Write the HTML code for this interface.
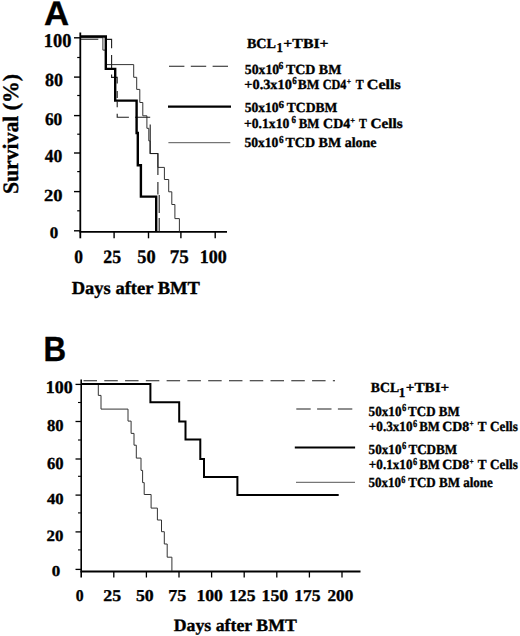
<!DOCTYPE html>
<html><head><meta charset="utf-8"><style>
html,body{margin:0;padding:0;background:#fff;}
svg{display:block;}
text{text-rendering:geometricPrecision;stroke:#000;stroke-width:0.35px;paint-order:stroke;}
</style></head><body>
<svg width="520" height="636" viewBox="0 0 520 636">
<rect width="520" height="636" fill="#fff"/>
<text transform="translate(44.03,24.90) scale(1.0131,1)" font-family='"Liberation Sans", sans-serif' font-weight="bold" font-size="34.33">A</text>
<line x1="80.3" y1="32.5" x2="80.3" y2="238.3" stroke="#000" stroke-width="1.8"/>
<line x1="79.39999999999999" y1="231.8" x2="227" y2="231.8" stroke="#000" stroke-width="1.8"/>
<line x1="74" y1="37.8" x2="80.3" y2="37.8" stroke="#000" stroke-width="1.4"/>
<line x1="74" y1="77.1" x2="80.3" y2="77.1" stroke="#000" stroke-width="1.4"/>
<line x1="74" y1="115.6" x2="80.3" y2="115.6" stroke="#000" stroke-width="1.4"/>
<line x1="74" y1="153.0" x2="80.3" y2="153.0" stroke="#000" stroke-width="1.4"/>
<line x1="74" y1="191.6" x2="80.3" y2="191.6" stroke="#000" stroke-width="1.4"/>
<line x1="74" y1="230.8" x2="80.3" y2="230.8" stroke="#000" stroke-width="1.4"/>
<line x1="77.2" y1="57.5" x2="80.3" y2="57.5" stroke="#000" stroke-width="1.2"/>
<line x1="77.2" y1="95.5" x2="80.3" y2="95.5" stroke="#000" stroke-width="1.2"/>
<line x1="77.2" y1="134.2" x2="80.3" y2="134.2" stroke="#000" stroke-width="1.2"/>
<line x1="77.2" y1="171.6" x2="80.3" y2="171.6" stroke="#000" stroke-width="1.2"/>
<line x1="77.2" y1="210.8" x2="80.3" y2="210.8" stroke="#000" stroke-width="1.2"/>
<line x1="114.1" y1="231.8" x2="114.1" y2="238.3" stroke="#000" stroke-width="1.4"/>
<line x1="148.5" y1="231.8" x2="148.5" y2="238.3" stroke="#000" stroke-width="1.4"/>
<line x1="180.9" y1="231.8" x2="180.9" y2="238.3" stroke="#000" stroke-width="1.4"/>
<line x1="215.2" y1="231.8" x2="215.2" y2="238.3" stroke="#000" stroke-width="1.4"/>
<text transform="translate(43.83,46.90) scale(0.9400,1)" font-family='"Liberation Serif", serif' font-weight="bold" font-size="19.55">100</text>
<text transform="translate(44.92,86.30) scale(0.9788,1)" font-family='"Liberation Serif", serif' font-weight="bold" font-size="18.35">80</text>
<text transform="translate(44.89,124.60) scale(0.9746,1)" font-family='"Liberation Serif", serif' font-weight="bold" font-size="17.81">60</text>
<text transform="translate(44.78,162.00) scale(0.9632,1)" font-family='"Liberation Serif", serif' font-weight="bold" font-size="18.25">40</text>
<text transform="translate(43.91,201.00) scale(1.0930,1)" font-family='"Liberation Serif", serif' font-weight="bold" font-size="16.91">20</text>
<text transform="translate(49.86,238.20) scale(1.0529,1)" font-family='"Liberation Serif", serif' font-weight="bold" font-size="16.09">0</text>
<text transform="translate(74.25,263.20) scale(0.9263,1)" font-family='"Liberation Serif", serif' font-weight="bold" font-size="18.80">0</text>
<text transform="translate(103.34,263.20) scale(0.9448,1)" font-family='"Liberation Serif", serif' font-weight="bold" font-size="18.87">25</text>
<text transform="translate(137.27,263.20) scale(0.9600,1)" font-family='"Liberation Serif", serif' font-weight="bold" font-size="19.08">50</text>
<text transform="translate(169.71,263.20) scale(0.9959,1)" font-family='"Liberation Serif", serif' font-weight="bold" font-size="19.08">75</text>
<text transform="translate(199.86,263.20) scale(0.9510,1)" font-family='"Liberation Serif", serif' font-weight="bold" font-size="18.94">100</text>
<text transform="translate(71.68,293.80) scale(1.0113,1)" font-family='"Liberation Serif", serif' font-weight="bold" font-size="18.32">Days after BMT</text>
<g transform="rotate(-90)"><text transform="translate(-194.04,17.80) scale(0.9856,1)" font-family='"Liberation Serif", serif' font-weight="bold" font-size="22.04">Survival (%)</text></g>
<path d="M 81 37.7 H 102.9 V 50.1 H 105.8 V 64.6 H 133.7 V 77.3 H 136.7 V 89.4 H 139.8 V 102.5 H 142.8 V 115.8 H 146.9 V 128.3 H 148.8 V 140.9 H 150.1 V 153.6 H 157.9 V 167.4 H 164.4 V 179.5 H 168.7 V 191.8 H 171.8 V 204.5 H 174.9 V 218.6 H 179.4 V 231.5" fill="none" stroke="#333" stroke-width="1.0"/>
<path d="M 81 39.3 H 98.3 M 106 39.4 H 111.6 V 48.2 M 111.6 55 V 69 M 111.6 74.5 V 77.4 H 117.2 V 83.6 M 117.2 91 V 98 M 117.2 101.5 V 107.2 M 117.2 113.8 V 117.3 H 128.9 M 135 117.3 H 150.2 M 150.2 124.4 V 153.5 H 157.9 V 175 M 157.9 182 V 194.5 M 159.2 195 V 213 M 159.2 218 V 231.5" fill="none" stroke="#1e1e1e" stroke-width="1.1"/>
<path d="M 81 36.5 H 105.8 V 68.9 H 115.2 V 100.6 H 136.6 V 133 H 137.8 V 165.3 H 140.9 V 196.6 H 156.2 V 231.5" fill="none" stroke="#000" stroke-width="2.4"/>
<line x1="169" y1="66.3" x2="228.3" y2="66.3" stroke="#1e1e1e" stroke-width="1.1" stroke-dasharray="15.4 6.4"/>
<line x1="168" y1="106.6" x2="231" y2="106.6" stroke="#000" stroke-width="2.3"/>
<line x1="168.4" y1="142.7" x2="230.3" y2="142.7" stroke="#555" stroke-width="1.0"/>
<text transform="translate(246.95,47.50) scale(1.0157,1.0)" font-family='"Liberation Serif", serif' font-weight="bold" font-size="13.90">BCL</text>
<text transform="translate(276.48,52.10) scale(0.9473,1.0)" font-family='"Liberation Serif", serif' font-weight="bold" font-size="13.50">1</text>
<text transform="translate(283.37,47.50) scale(1.1375,1.0)" font-family='"Liberation Serif", serif' font-weight="bold" font-size="13.90">+TBI+</text>
<text transform="translate(244.85,73.50) scale(0.9889,1.0)" font-family='"Liberation Serif", serif' font-weight="bold" font-size="13.90">50x10</text>
<text transform="translate(278.56,69.20) scale(0.9195,1.0)" font-family='"Liberation Serif", serif' font-weight="bold" font-size="10.50">6</text>
<text transform="translate(285.89,73.50) scale(1.0056,1.0)" font-family='"Liberation Serif", serif' font-weight="bold" font-size="13.90">TCD BM</text>
<text transform="translate(244.35,88.70) scale(1.0290,1.0)" font-family='"Liberation Serif", serif' font-weight="bold" font-size="13.90">+0.3x10</text>
<text transform="translate(292.19,84.40) scale(0.8539,1.0)" font-family='"Liberation Serif", serif' font-weight="bold" font-size="10.50">6</text>
<text transform="translate(297.77,88.70) scale(0.9654,1.0)" font-family='"Liberation Serif", serif' font-weight="bold" font-size="13.90">BM</text>
<text transform="translate(322.69,88.70) scale(0.8813,1.0)" font-family='"Liberation Serif", serif' font-weight="bold" font-size="13.90">CD4</text>
<text transform="translate(346.70,83.70) scale(0.9409,1.0)" font-family='"Liberation Serif", serif' font-weight="bold" font-size="8.00">+</text>
<text transform="translate(355.82,88.70) scale(0.8577,1.0)" font-family='"Liberation Serif", serif' font-weight="bold" font-size="13.90">T</text>
<text transform="translate(366.80,88.70) scale(1.1581,1.0)" font-family='"Liberation Serif", serif' font-weight="bold" font-size="13.90">Cells</text>
<text transform="translate(244.66,112.10) scale(0.9771,1.0)" font-family='"Liberation Serif", serif' font-weight="bold" font-size="13.90">50x10</text>
<text transform="translate(278.61,107.80) scale(1.0509,1.0)" font-family='"Liberation Serif", serif' font-weight="bold" font-size="10.50">6</text>
<text transform="translate(286.80,112.10) scale(0.9781,1.0)" font-family='"Liberation Serif", serif' font-weight="bold" font-size="13.90">TCDBM</text>
<text transform="translate(243.98,127.60) scale(0.9822,1.0)" font-family='"Liberation Serif", serif' font-weight="bold" font-size="13.90">+0.1x10</text>
<text transform="translate(291.59,123.30) scale(0.8539,1.0)" font-family='"Liberation Serif", serif' font-weight="bold" font-size="10.50">6</text>
<text transform="translate(298.78,127.60) scale(0.9240,1.0)" font-family='"Liberation Serif", serif' font-weight="bold" font-size="13.90">BM</text>
<text transform="translate(323.10,127.60) scale(1.0039,1.0)" font-family='"Liberation Serif", serif' font-weight="bold" font-size="13.90">CD4</text>
<text transform="translate(350.36,122.60) scale(1.0484,1.0)" font-family='"Liberation Serif", serif' font-weight="bold" font-size="8.00">+</text>
<text transform="translate(359.02,127.60) scale(0.8464,1.0)" font-family='"Liberation Serif", serif' font-weight="bold" font-size="13.90">T</text>
<text transform="translate(370.54,127.60) scale(1.0981,1.0)" font-family='"Liberation Serif", serif' font-weight="bold" font-size="13.90">Cells</text>
<text transform="translate(244.46,147.00) scale(0.9771,1.0)" font-family='"Liberation Serif", serif' font-weight="bold" font-size="13.90">50x10</text>
<text transform="translate(279.08,142.70) scale(0.8758,1.0)" font-family='"Liberation Serif", serif' font-weight="bold" font-size="10.50">6</text>
<text transform="translate(285.49,147.00) scale(1.0090,1.0)" font-family='"Liberation Serif", serif' font-weight="bold" font-size="13.90">TCD BM alone</text>
<text transform="translate(43.49,360.50) scale(0.8969,1)" font-family='"Liberation Sans", sans-serif' font-weight="bold" font-size="34.91">B</text>
<line x1="81.2" y1="379.5" x2="81.2" y2="577.5" stroke="#000" stroke-width="1.6"/>
<line x1="80.4" y1="571.5" x2="360.5" y2="571.5" stroke="#000" stroke-width="1.8"/>
<line x1="75.5" y1="384.4" x2="81.2" y2="384.4" stroke="#000" stroke-width="1.3"/>
<line x1="75.5" y1="421.5" x2="81.2" y2="421.5" stroke="#000" stroke-width="1.3"/>
<line x1="75.5" y1="459" x2="81.2" y2="459" stroke="#000" stroke-width="1.3"/>
<line x1="75.5" y1="495.1" x2="81.2" y2="495.1" stroke="#000" stroke-width="1.3"/>
<line x1="75.5" y1="531.9" x2="81.2" y2="531.9" stroke="#000" stroke-width="1.3"/>
<line x1="75.5" y1="569.4" x2="81.2" y2="569.4" stroke="#000" stroke-width="1.3"/>
<line x1="78" y1="402.5" x2="81.2" y2="402.5" stroke="#000" stroke-width="1.1"/>
<line x1="78" y1="440" x2="81.2" y2="440" stroke="#000" stroke-width="1.1"/>
<line x1="78" y1="476.3" x2="81.2" y2="476.3" stroke="#000" stroke-width="1.1"/>
<line x1="78" y1="512.9" x2="81.2" y2="512.9" stroke="#000" stroke-width="1.1"/>
<line x1="78" y1="549.9" x2="81.2" y2="549.9" stroke="#000" stroke-width="1.1"/>
<line x1="113.80000000000001" y1="571.5" x2="113.80000000000001" y2="577.5" stroke="#000" stroke-width="1.3"/>
<line x1="146.4" y1="571.5" x2="146.4" y2="577.5" stroke="#000" stroke-width="1.3"/>
<line x1="179.0" y1="571.5" x2="179.0" y2="577.5" stroke="#000" stroke-width="1.3"/>
<line x1="211.60000000000002" y1="571.5" x2="211.60000000000002" y2="577.5" stroke="#000" stroke-width="1.3"/>
<line x1="244.2" y1="571.5" x2="244.2" y2="577.5" stroke="#000" stroke-width="1.3"/>
<line x1="276.8" y1="571.5" x2="276.8" y2="577.5" stroke="#000" stroke-width="1.3"/>
<line x1="309.40000000000003" y1="571.5" x2="309.40000000000003" y2="577.5" stroke="#000" stroke-width="1.3"/>
<line x1="342.0" y1="571.5" x2="342.0" y2="577.5" stroke="#000" stroke-width="1.3"/>
<text transform="translate(45.76,392.80) scale(1.0119,1)" font-family='"Liberation Serif", serif' font-weight="bold" font-size="17.73">100</text>
<text transform="translate(47.06,431.40) scale(1.0011,1)" font-family='"Liberation Serif", serif' font-weight="bold" font-size="16.54">80</text>
<text transform="translate(47.02,469.00) scale(0.9821,1)" font-family='"Liberation Serif", serif' font-weight="bold" font-size="16.91">60</text>
<text transform="translate(46.99,503.70) scale(1.0827,1)" font-family='"Liberation Serif", serif' font-weight="bold" font-size="15.36">40</text>
<text transform="translate(46.48,541.20) scale(1.0732,1)" font-family='"Liberation Serif", serif' font-weight="bold" font-size="15.70">20</text>
<text transform="translate(51.76,576.30) scale(1.1266,1)" font-family='"Liberation Serif", serif' font-weight="bold" font-size="15.04">0</text>
<text transform="translate(75.66,600.80) scale(0.9618,1)" font-family='"Liberation Serif", serif' font-weight="bold" font-size="16.39">0</text>
<text transform="translate(103.24,600.80) scale(1.0835,1)" font-family='"Liberation Serif", serif' font-weight="bold" font-size="16.45">25</text>
<text transform="translate(135.89,600.80) scale(1.0683,1)" font-family='"Liberation Serif", serif' font-weight="bold" font-size="16.64">50</text>
<text transform="translate(168.16,600.80) scale(1.0890,1)" font-family='"Liberation Serif", serif' font-weight="bold" font-size="16.64">75</text>
<text transform="translate(196.39,600.80) scale(1.0687,1)" font-family='"Liberation Serif", serif' font-weight="bold" font-size="16.52">100</text>
<text transform="translate(228.99,600.80) scale(1.0687,1)" font-family='"Liberation Serif", serif' font-weight="bold" font-size="16.52">125</text>
<text transform="translate(261.59,600.80) scale(1.0687,1)" font-family='"Liberation Serif", serif' font-weight="bold" font-size="16.52">150</text>
<text transform="translate(294.19,600.80) scale(1.0687,1)" font-family='"Liberation Serif", serif' font-weight="bold" font-size="16.52">175</text>
<text transform="translate(327.47,600.80) scale(1.0444,1)" font-family='"Liberation Serif", serif' font-weight="bold" font-size="16.45">200</text>
<text transform="translate(173.79,630.80) scale(1.0212,1)" font-family='"Liberation Serif", serif' font-weight="bold" font-size="17.40">Days after BMT</text>
<line x1="83.5" y1="380.8" x2="335" y2="380.8" stroke="#1e1e1e" stroke-width="1.1" stroke-dasharray="13.5 7.28"/>
<path d="M 82 384.4 H 98.3 V 395.4 H 101 V 409.1 H 128 V 421.1 H 131.1 V 433.4 H 134 V 445.2 H 136.3 V 458.1 H 141 V 470.4 H 142.6 V 482.6 H 144.2 V 494.5 H 151.1 V 508.1 H 157.4 V 520 H 161.5 V 531.7 H 164.3 V 544 H 167.2 V 557.2 H 171.9 V 571" fill="none" stroke="#333" stroke-width="1.0"/>
<path d="M 82 384 H 150.4 V 402.2 H 179.2 V 421.6 H 185.5 V 439.6 H 200.3 V 459 H 204 V 477 H 237.4 V 494.9 H 338.7" fill="none" stroke="#000" stroke-width="2.0"/>
<line x1="296.3" y1="409" x2="352.8" y2="409" stroke="#1e1e1e" stroke-width="1.1" stroke-dasharray="14.4 6.4"/>
<line x1="294.8" y1="447.5" x2="355.1" y2="447.5" stroke="#000" stroke-width="2.2"/>
<line x1="296" y1="482.3" x2="355" y2="482.3" stroke="#555" stroke-width="1.0"/>
<text transform="translate(370.86,392.30) scale(0.9868,1.0)" font-family='"Liberation Serif", serif' font-weight="bold" font-size="13.90">BCL</text>
<text transform="translate(398.76,396.90) scale(0.9675,1.0)" font-family='"Liberation Serif", serif' font-weight="bold" font-size="13.50">1</text>
<text transform="translate(405.80,392.30) scale(1.0932,1.0)" font-family='"Liberation Serif", serif' font-weight="bold" font-size="13.90">+TBI+</text>
<text transform="translate(368.57,415.60) scale(0.9474,1.0)" font-family='"Liberation Serif", serif' font-weight="bold" font-size="13.90">50x10</text>
<text transform="translate(401.90,411.30) scale(0.8101,1.0)" font-family='"Liberation Serif", serif' font-weight="bold" font-size="10.50">6</text>
<text transform="translate(408.11,415.60) scale(0.9342,1.0)" font-family='"Liberation Serif", serif' font-weight="bold" font-size="13.90">TCD BM</text>
<text transform="translate(368.81,431.00) scale(0.9466,1.0)" font-family='"Liberation Serif", serif' font-weight="bold" font-size="13.90">+0.3x10</text>
<text transform="translate(412.91,426.70) scale(0.7882,1.0)" font-family='"Liberation Serif", serif' font-weight="bold" font-size="10.50">6</text>
<text transform="translate(419.28,431.00) scale(0.9194,1.0)" font-family='"Liberation Serif", serif' font-weight="bold" font-size="13.90">BM</text>
<text transform="translate(442.30,431.00) scale(1.0004,1.0)" font-family='"Liberation Serif", serif' font-weight="bold" font-size="13.90">CD8</text>
<text transform="translate(469.52,426.00) scale(0.9140,1.0)" font-family='"Liberation Serif", serif' font-weight="bold" font-size="8.00">+</text>
<text transform="translate(477.80,431.00) scale(0.9479,1.0)" font-family='"Liberation Serif", serif' font-weight="bold" font-size="13.90">T</text>
<text transform="translate(490.04,431.00) scale(0.9498,1.0)" font-family='"Liberation Serif", serif' font-weight="bold" font-size="13.90">Cells</text>
<text transform="translate(368.57,453.60) scale(0.9474,1.0)" font-family='"Liberation Serif", serif' font-weight="bold" font-size="13.90">50x10</text>
<text transform="translate(401.90,449.30) scale(0.8101,1.0)" font-family='"Liberation Serif", serif' font-weight="bold" font-size="10.50">6</text>
<text transform="translate(408.40,453.60) scale(0.9429,1.0)" font-family='"Liberation Serif", serif' font-weight="bold" font-size="13.90">TCDBM</text>
<text transform="translate(368.81,468.90) scale(0.9466,1.0)" font-family='"Liberation Serif", serif' font-weight="bold" font-size="13.90">+0.1x10</text>
<text transform="translate(412.91,464.60) scale(0.7882,1.0)" font-family='"Liberation Serif", serif' font-weight="bold" font-size="10.50">6</text>
<text transform="translate(419.28,468.90) scale(0.9194,1.0)" font-family='"Liberation Serif", serif' font-weight="bold" font-size="13.90">BM</text>
<text transform="translate(442.30,468.90) scale(1.0004,1.0)" font-family='"Liberation Serif", serif' font-weight="bold" font-size="13.90">CD8</text>
<text transform="translate(469.52,463.90) scale(0.9140,1.0)" font-family='"Liberation Serif", serif' font-weight="bold" font-size="8.00">+</text>
<text transform="translate(477.80,468.90) scale(0.9479,1.0)" font-family='"Liberation Serif", serif' font-weight="bold" font-size="13.90">T</text>
<text transform="translate(490.04,468.90) scale(0.9498,1.0)" font-family='"Liberation Serif", serif' font-weight="bold" font-size="13.90">Cells</text>
<text transform="translate(368.48,487.00) scale(0.9384,1.0)" font-family='"Liberation Serif", serif' font-weight="bold" font-size="13.90">50x10</text>
<text transform="translate(401.31,482.70) scale(0.7882,1.0)" font-family='"Liberation Serif", serif' font-weight="bold" font-size="10.50">6</text>
<text transform="translate(408.30,487.00) scale(0.9366,1.0)" font-family='"Liberation Serif", serif' font-weight="bold" font-size="13.90">TCD BM alone</text>
</svg>
</body></html>
